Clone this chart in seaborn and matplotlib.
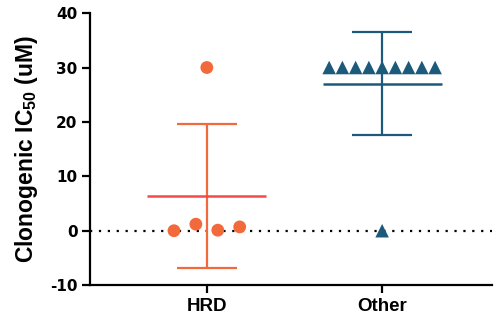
import numpy as np
import pandas as pd
import matplotlib
matplotlib.use("Agg")
import matplotlib.pyplot as plt
import seaborn as sns

# values
groups = ["HRD", "Other"]
hrd_ic50 = [0.0, 1.2, 30.0, 0.1, 0.7]
other_ic50 = [30.0, 30.0, 30.0, 30.0, 30.0, 30.0, 30.0, 30.0, 30.0, 0.0]
y_ticks = [-10, 0, 10, 20, 30, 40]

colors = {"HRD": "#F26A3C", "Other": "#1C5A7B"}
mean_colors = {"HRD": "#F54A4A", "Other": "#1C5A7B"}
markers = {"HRD": "o", "Other": "^"}

sns.set_style("ticks")
plt.rcParams["font.family"] = ["Liberation Sans", "DejaVu Sans"]
plt.rcParams["font.weight"] = "bold"
plt.rcParams["text.color"] = "black"
plt.rcParams["axes.labelcolor"] = "black"
plt.rcParams["mathtext.fontset"] = "custom"
plt.rcParams["mathtext.bf"] = "Liberation Sans:bold"
plt.rcParams["mathtext.rm"] = "Liberation Sans:bold"


def row_offsets(values, tol=2.0, width=0.68, max_step=0.125):
    """Spread points of (almost) equal value side by side, Prism style."""
    values = np.asarray(values)
    offsets = np.zeros(len(values))
    used = np.zeros(len(values), dtype=bool)
    for i in range(len(values)):
        if used[i]:
            continue
        members = [j for j in range(len(values))
                   if not used[j] and abs(values[j] - values[i]) < tol]
        used[members] = True
        n = len(members)
        step = min(max_step, width / n)
        for k, j in enumerate(members):
            offsets[j] = (k - (n - 1) / 2) * step
    return offsets


df = pd.concat([
    pd.DataFrame({"group": "HRD", "ic50": hrd_ic50}),
    pd.DataFrame({"group": "Other", "ic50": other_ic50}),
], ignore_index=True)
df["pos"] = df["group"].map({g: i for i, g in enumerate(groups)})
df["x"] = df["pos"] + df.groupby("group")["ic50"].transform(
    lambda s: row_offsets(s.values))

fig = plt.figure(figsize=(4.95, 3.2), dpi=100)
ax = fig.add_axes([0.182, 0.109, 0.812, 0.850])

ax.axhline(0, color="black", linestyle=(0, (1, 3)), linewidth=1.6, zorder=1)

for g in groups:
    sub = df[df["group"] == g]
    sns.scatterplot(data=sub, x="x", y="ic50", marker=markers[g],
                    color=colors[g], s=85 if g == "HRD" else 95,
                    edgecolor="none", ax=ax, zorder=3, legend=False)

summary = df.groupby("group")["ic50"].agg(["mean", "std"]).reindex(groups)
for i, g in enumerate(groups):
    m, sd = summary.loc[g, "mean"], summary.loc[g, "std"]
    ax.vlines(i, m - sd, m + sd, color=colors[g], linewidth=1.6, zorder=4)
    ax.hlines([m - sd, m + sd], i - 0.171, i + 0.171, color=colors[g],
              linewidth=1.6, zorder=4)
    ax.hlines(m, i - 0.34, i + 0.34, color=mean_colors[g], linewidth=1.8,
              zorder=4)

ax.set_xlim(-0.666, 1.627)
ax.set_ylim(-10, 40)
ax.set_xticks(range(len(groups)))
ax.set_xticklabels(groups, fontsize=13.5, fontweight="bold")
ax.set_yticks(y_ticks)
ax.set_yticklabels([str(t) for t in y_ticks], fontsize=11, fontweight="bold",
                   family="DejaVu Sans")
ax.set_xlabel("")
ax.set_ylabel(r"Clonogenic IC$_{\mathbf{50}}$ (uM)", fontsize=16.5,
              fontweight="bold", color="black", labelpad=7)
ax.tick_params(axis="both", length=6, width=1.6, pad=3, colors="black")
for side in ["left", "bottom"]:
    ax.spines[side].set_linewidth(1.6)
    ax.spines[side].set_color("black")
sns.despine(ax=ax)

fig.savefig("out.png", dpi=100)
